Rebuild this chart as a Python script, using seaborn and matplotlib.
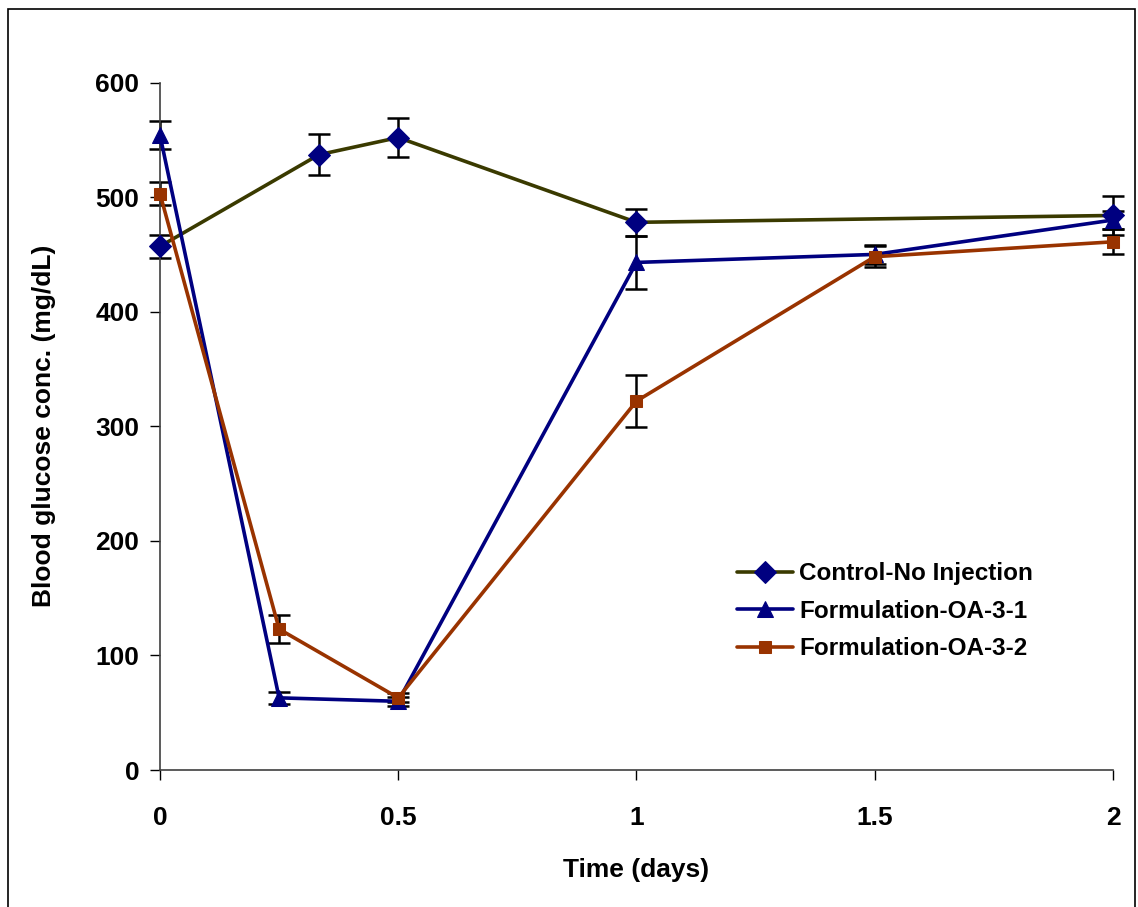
import numpy as np
import matplotlib
matplotlib.use("Agg")
import matplotlib.pyplot as plt
import seaborn as sns
from matplotlib.patches import Rectangle

# Data
control_days = [0, 1 / 3, 0.5, 1, 2]
control_glucose = [457, 537, 552, 478, 484]
control_err = [10, 18, 17, 12, 17]

oa31_days = [0, 0.25, 0.5, 1, 1.5, 2]
oa31_glucose = [554, 63, 60, 443, 450, 480]
oa31_err = [12, 5, 4, 23, 8, 8]

oa32_days = [0, 0.25, 0.5, 1, 1.5, 2]
oa32_glucose = [503, 123, 63, 322, 448, 461]
oa32_err = [10, 12, 4, 23, 9, 11]

x_ticks = [0, 0.5, 1, 1.5, 2]
x_tick_labels = ["0", "0.5", "1", "1.5", "2"]
y_ticks = [0, 100, 200, 300, 400, 500, 600]

sns.set_style("ticks")
plt.rcParams['font.family'] = ['Liberation Sans', 'DejaVu Sans']
plt.rcParams['font.weight'] = 'bold'
plt.rcParams['text.color'] = 'black'
plt.rcParams['axes.labelcolor'] = 'black'
plt.rcParams['xtick.color'] = 'black'
plt.rcParams['ytick.color'] = 'black'

fig = plt.figure(figsize=(11.38, 9.07), dpi=100)
ax = fig.add_axes([0.1406, 0.151, 0.8374, 0.758])

series = [
    (control_days, control_glucose, control_err, "Control-No Injection", "#3a3a00", "#000080", "D", 11),
    (oa31_days, oa31_glucose, oa31_err, "Formulation-OA-3-1", "#000080", "#000080", "^", 11),
    (oa32_days, oa32_glucose, oa32_err, "Formulation-OA-3-2", "#993300", "#993300", "s", 9),
]

for days, vals, err, label, lcol, mcol, mk, ms in series:
    ax.errorbar(days, vals, yerr=err, fmt="none", ecolor="black",
                elinewidth=1.8, capsize=8, capthick=1.8, zorder=2)
    sns.lineplot(x=days, y=vals, ax=ax, label=label, color=lcol, linewidth=2.6,
                 marker=mk, markersize=ms, markerfacecolor=mcol,
                 markeredgecolor=mcol, zorder=3)

ax.set_xlim(0, 2)
ax.set_ylim(0, 600)
ax.set_xticks(x_ticks)
ax.set_xticklabels(x_tick_labels)
ax.set_yticks(y_ticks)
ax.tick_params(axis="both", labelsize=19, length=7, width=1, direction="out")
ax.tick_params(axis="x", pad=19)
ax.tick_params(axis="y", pad=8)
for lab in ax.get_xticklabels() + ax.get_yticklabels():
    lab.set_fontweight("bold")

ax.set_xlabel("Time (days)", fontsize=19, fontweight="bold", labelpad=20)
ax.set_ylabel("Blood glucose conc. (mg/dL)", fontsize=19, fontweight="bold", labelpad=28)

sns.despine(ax=ax)
for sp in ["left", "bottom"]:
    ax.spines[sp].set_color("#404040")
    ax.spines[sp].set_linewidth(1.2)
for artist in ax.lines + ax.collections:
    artist.set_clip_on(False)

leg = ax.legend(loc="upper left", bbox_to_anchor=(0.583, 0.334), frameon=False,
                prop={"size": 17.5, "weight": "bold"}, handlelength=2.3,
                labelspacing=0.6, handletextpad=0.25)

fig.patches.append(Rectangle((0.007, -0.01), 0.99, 1.0, transform=fig.transFigure,
                             fill=False, edgecolor="black", linewidth=1.2))

fig.savefig("out.png", dpi=100, facecolor="white")
